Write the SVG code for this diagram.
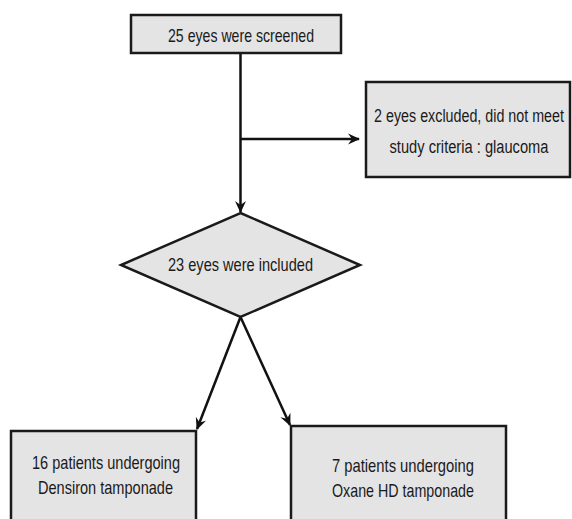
<svg xmlns="http://www.w3.org/2000/svg" width="572" height="519" viewBox="0 0 572 519">
<style>
.box{fill:#e4e4e4;stroke:#1a1a1a;stroke-width:2.5}
.lbl{font-family:"Liberation Sans",Arial,sans-serif;font-size:19px;fill:#1a1a1a;text-anchor:middle}
.con{fill:none;stroke:#111;stroke-width:2.5}
</style>
<defs>
<marker id="ah" viewBox="0 0 12 12" refX="11" refY="6" markerWidth="12" markerHeight="12" markerUnits="userSpaceOnUse" orient="auto">
<path d="M0,0.5 L12,6 L0,11.5 L4,6 Z" fill="#111"/>
</marker>
</defs>
<rect width="572" height="519" fill="#fff"/>
<g id="connectors">
<line class="con" x1="240.5" y1="53" x2="240.5" y2="212" marker-end="url(#ah)"/>
<line class="con" x1="240.5" y1="139" x2="359" y2="139" marker-end="url(#ah)"/>
<line class="con" x1="240.5" y1="317" x2="197" y2="429" marker-end="url(#ah)"/>
<line class="con" x1="240.5" y1="317" x2="290" y2="425" marker-end="url(#ah)"/>
</g>
<g id="screened">
<rect class="box" x="131" y="15" width="210" height="38"/>
<text class="lbl" x="241" y="42" textLength="146" lengthAdjust="spacingAndGlyphs">25 eyes were screened</text>
</g>
<g id="excluded">
<rect class="box" x="366" y="82" width="204" height="95"/>
<text class="lbl" transform="translate(469,122) scale(0.753,1)">2 eyes excluded, did not meet</text>
<text class="lbl" transform="translate(469,153) scale(0.772,1)">study criteria : glaucoma</text>
</g>
<g id="included">
<polygon class="box" points="240.5,213 360,265 240.5,317 121,265"/>
<text class="lbl" x="240.5" y="271" textLength="145" lengthAdjust="spacingAndGlyphs">23 eyes were included</text>
</g>
<g id="densiron">
<rect class="box" x="11" y="431" width="185" height="100"/>
<text class="lbl" x="106" y="469" textLength="148" lengthAdjust="spacingAndGlyphs">16 patients undergoing</text>
<text class="lbl" x="105.5" y="494" textLength="135" lengthAdjust="spacingAndGlyphs">Densiron tamponade</text>
</g>
<g id="oxane">
<rect class="box" x="291" y="426" width="215" height="105"/>
<text class="lbl" x="403" y="472" textLength="142" lengthAdjust="spacingAndGlyphs">7 patients undergoing</text>
<text class="lbl" x="403" y="497" textLength="142" lengthAdjust="spacingAndGlyphs">Oxane HD tamponade</text>
</g>
</svg>
